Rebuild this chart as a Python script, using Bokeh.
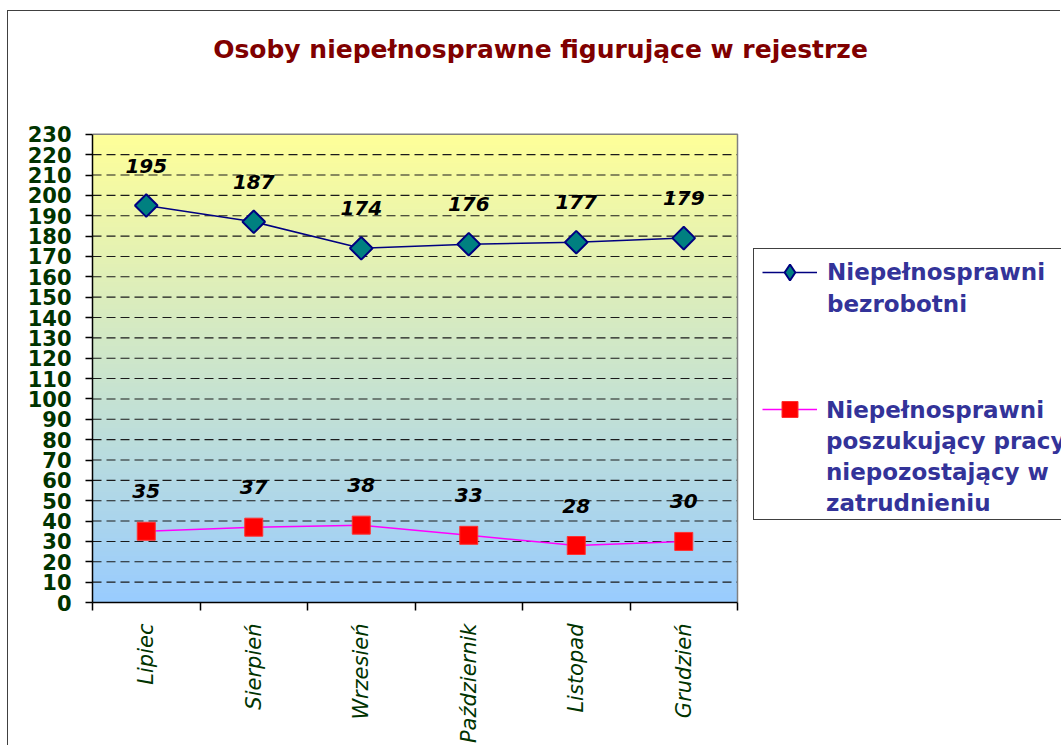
import math
import numpy as np
from bokeh.plotting import figure
from bokeh.models import (FixedTicker, Legend, LegendItem, AllLabels, ColumnDataSource, Label)
from bokeh.core.properties import value
from bokeh.embed import file_html
from bokeh.resources import INLINE

# ---- data ----
months = ["Lipiec", "Sierpień", "Wrzesień", "Październik", "Listopad", "Grudzień"]
bezrobotni = [195, 187, 174, 176, 177, 179]
poszukujacy = [35, 37, 38, 33, 28, 30]
y_ticks = list(range(0, 231, 10))
y_max = 230
title_text = "Osoby niepełnosprawne figurujące w rejestrze"
legend1_lines = ["Niepełnosprawni", "bezrobotni"]
legend2_lines = ["Niepełnosprawni", "poszukujący pracy", "niepozostający w", "zatrudnieniu"]

FONT = "DejaVu Sans"
OX, OY = 8, 11               # canvas offset on the page (margin + css border)
W, H = 1061 - OX, 746 - OY
n = len(months)
xs = [i + 0.5 for i in range(n)]

# layout (page pixels)
PL, PR, PT, PB = 92, 737, 134, 603   # plot area
px_per_x = (PR - PL) / n
px_per_y = (PB - PT) / y_max
frame_w = W - (PL - OX)
frame_h = PB - OY
x_end = frame_w / px_per_x
y_end = frame_h / px_per_y

p = figure(width=W, height=H, output_backend="svg", toolbar_location=None,
           x_range=(0, x_end), y_range=(0, y_end),
           min_border_left=PL - OX, min_border_right=0, min_border_top=0,
           min_border_bottom=H - frame_h)
p.styles = {"margin-left": "7px", "margin-top": "10px",
            "border-left": "1px solid #404040", "border-top": "1px solid #404040"}
p.background_fill_color = "white"
p.border_fill_color = "white"
p.outline_line_color = None
p.xgrid.visible = False
p.ygrid.visible = False

# gradient background of plot area (yellow top -> light blue bottom)
top_c = np.array([255, 255, 153])
bot_c = np.array([153, 204, 255])
N = 256
t = np.linspace(0, 1, N)[:, None]  # row 0 = bottom
cols = (bot_c * (1 - t) + top_c * t).astype(np.uint32)
img = np.zeros((N, 1), dtype=np.uint32)
view = img.view(dtype=np.uint8).reshape((N, 1, 4))
view[:, 0, 0] = cols[:, 0]
view[:, 0, 1] = cols[:, 1]
view[:, 0, 2] = cols[:, 2]
view[:, 0, 3] = 255
p.image_rgba(image=[img], x=0, y=0, dw=n, dh=y_max)

# dashed horizontal grid, only across the plot area
g = [v for v in y_ticks if 0 < v < y_max]
p.segment(x0=[0] * len(g), x1=[n] * len(g), y0=g, y1=g,
          line_color="#1a1a1a", line_dash="9 5", line_width=1.1)
# plot area border (top, right)
p.line(x=[0, n, n], y=[y_max, y_max, 0], line_color="#808080", line_width=1.5)

# y axis
ya = p.yaxis[0]
ya.bounds = (0, y_max)
ya.ticker = FixedTicker(ticks=y_ticks)
ya.major_label_policy = AllLabels()
ya.major_label_text_font = FONT
ya.major_label_text_font_style = "bold"
ya.major_label_text_font_size = "21px"
ya.major_label_text_color = "#003300"
ya.major_tick_out = 7
ya.major_tick_in = 0
ya.minor_tick_out = 0
ya.minor_tick_in = 0
ya.major_label_standoff = 14
ya.axis_line_color = "black"
ya.axis_line_width = 1.5
ya.major_tick_line_color = "black"
ya.major_tick_line_width = 1.5

# x axis
xa = p.xaxis[0]
xa.bounds = (0, n)
xa.ticker = FixedTicker(ticks=xs, minor_ticks=list(range(n + 1)))
xa.major_label_overrides = {x: m for x, m in zip(xs, months)}
xa.major_label_orientation = math.pi / 2
xa.major_label_policy = AllLabels()
xa.major_label_text_font = FONT
xa.major_label_text_font_style = "italic"
xa.major_label_text_font_size = "21px"
xa.major_label_text_color = "#003300"
xa.major_tick_out = 0
xa.major_tick_in = 0
xa.minor_tick_out = 8
xa.minor_tick_in = 0
xa.minor_tick_line_color = "black"
xa.minor_tick_line_width = 1.5
xa.major_label_standoff = 13
xa.axis_line_color = "black"
xa.axis_line_width = 1.5

src = ColumnDataSource(dict(x=xs, b=bezrobotni, s=poszukujacy,
                            bt=[str(v) for v in bezrobotni],
                            st=[str(v) for v in poszukujacy]))

l1 = p.line("x", "b", source=src, line_color="#000080", line_width=1.5)
m1 = p.scatter("x", "b", source=src, marker="square", angle=math.pi / 4, size=16,
               fill_color="#008080", line_color="#000080", line_width=2)
l2 = p.line("x", "s", source=src, line_color="#FF00FF", line_width=1.5)
m2 = p.scatter("x", "s", source=src, marker="square", size=18,
               fill_color="#FF0000", line_color="#FF3030", line_width=1)

for col, ycol in (("bt", "b"), ("st", "s")):
    p.text("x", ycol, text=col, source=src, y_offset=-40,
           text_align="center", text_baseline="middle",
           text_font=value(FONT), text_font_style="bold italic",
           text_font_size="20px", text_color="black")

# title
p.add_layout(Label(x=540 - PL, y=PB - 50, x_units="screen", y_units="screen",
                   text=title_text, text_align="center", text_baseline="middle",
                   text_font=FONT, text_font_style="bold", text_font_size="25px",
                   text_color="#800000"))

# legend: box with the first entry's text (box runs past the right edge) ...
blank = p.line(x=[0, 0], y=[-10, -10], line_alpha=0)
txt = dict(label_text_font=FONT, label_text_font_style="bold",
           label_text_font_size="23px", label_text_color="#333399")
rows_a = legend1_lines + [" "] * 5 + ["\u00a0" * 40]
legend_a = Legend(items=[LegendItem(label=r, renderers=[blank]) for r in rows_a],
                  location=(753 - PL, PB - 521), orientation="vertical",
                  border_line_color="#404040", border_line_width=1.5, border_line_alpha=1,
                  background_fill_color="white", background_fill_alpha=1,
                  padding=7, spacing=0, label_height=32, glyph_height=32,
                  glyph_width=57, label_standoff=9, margin=0, **txt)
p.add_layout(legend_a, "center")
# ... the second entry's text ...
legend_b = Legend(items=[LegendItem(label=r, renderers=[blank]) for r in legend2_lines],
                  location=(826 - 66 - PL, PB - 519), orientation="vertical",
                  border_line_alpha=0, background_fill_alpha=0,
                  padding=0, spacing=0, label_height=31, glyph_height=31,
                  glyph_width=57, label_standoff=9, margin=0, **txt)
p.add_layout(legend_b, "center")
# ... and the series symbols
d1 = p.scatter(x=[-1], y=[-1], marker="diamond", size=16,
               fill_color="#008080", line_color="#000080", line_width=2)
legend_sym = Legend(items=[LegendItem(label=" ", renderers=[l1, d1]),
                           LegendItem(label=" ", renderers=[l2, m2])],
                    location=(762 - PL, PB - 430), orientation="vertical",
                    border_line_alpha=0, background_fill_alpha=0,
                    padding=0, spacing=97, glyph_width=55, glyph_height=40,
                    label_standoff=0, margin=0, label_text_font_size="10px")
p.add_layout(legend_sym, "center")

open("out.html", "w").write(file_html(p, INLINE))
